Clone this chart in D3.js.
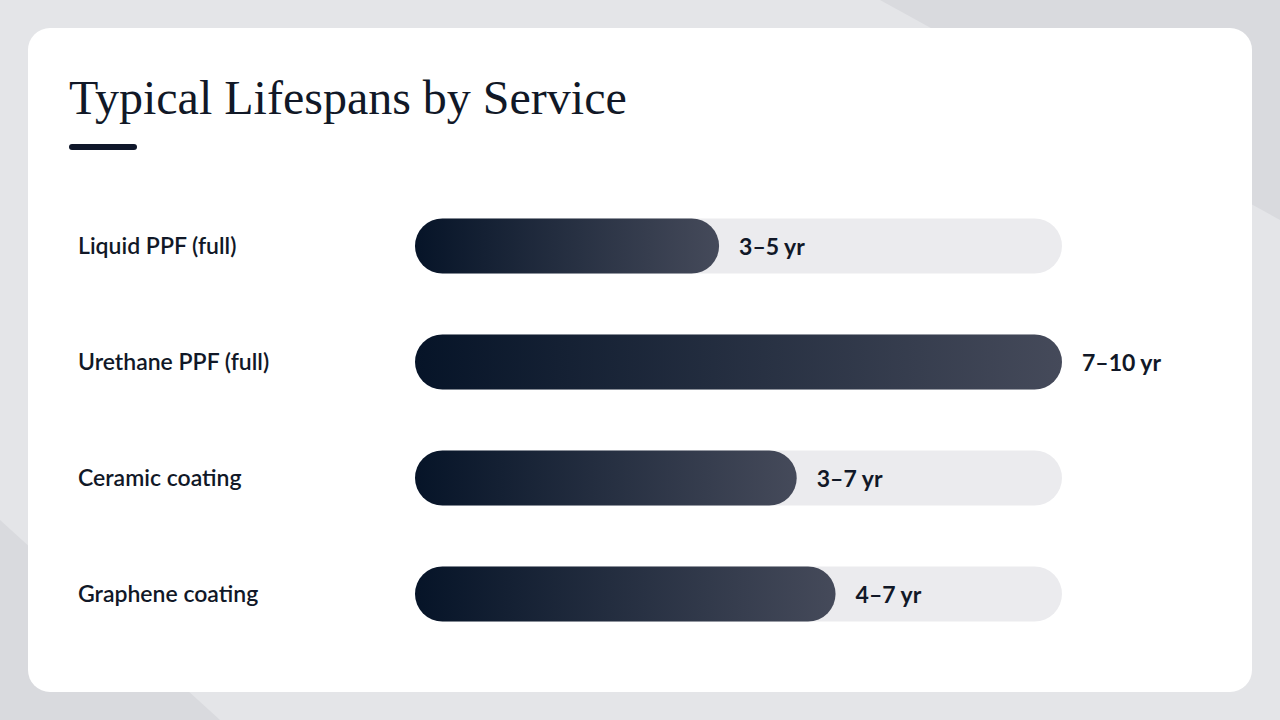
<!DOCTYPE html>
<html><head><meta charset="utf-8">
<script src="https://cdn.jsdelivr.net/npm/d3@7/dist/d3.min.js"></script>
<style>body{margin:0;background:#e4e5e8}</style></head>
<body><script>
const categories=["Liquid PPF (full)","Urethane PPF (full)","Ceramic coating","Graphene coating"];
const values=[4.7,10,5.9,6.5];
const valueLabels=["3–5 yr","7–10 yr","3–7 yr","4–7 yr"];
const W=1280,H=720;
const svg=d3.select("body").append("svg").attr("width",W).attr("height",H);
svg.append("rect").attr("width",W).attr("height",H).attr("fill","#e4e5e8");
svg.append("path").attr("d","M880,0 L1280,0 L1280,220 Z").attr("fill","#d9dade");
svg.append("path").attr("d","M0,520 L0,720 L220,720 Z").attr("fill","#d9dade");
svg.append("rect").attr("x",28).attr("y",28).attr("width",1224).attr("height",664).attr("rx",22).attr("fill","#fff");
svg.append("text").attr("x",69).attr("y",114).attr("font-family","Liberation Serif, serif").attr("font-size",48).attr("fill","#111827").text("Typical Lifespans by Service");
svg.append("rect").attr("x",69).attr("y",144).attr("width",68).attr("height",6).attr("rx",3).attr("fill","#0f172a");
const defs=svg.append("defs");
const g=defs.append("linearGradient").attr("id","gr");
g.append("stop").attr("offset","0%").attr("stop-color","#061428");
g.append("stop").attr("offset","100%").attr("stop-color","#454a5a");
const x=d3.scaleLinear().domain([0,10]).range([415,1062]);
const y=d3.scaleBand().domain(categories).range([188,652]).paddingInner(0.526).paddingOuter(0.263);
const row=svg.selectAll("g.r").data(categories).enter().append("g");
row.append("rect").attr("x",x(0)).attr("y",d=>y(d)).attr("width",x(10)-x(0)).attr("height",y.bandwidth()).attr("rx",y.bandwidth()/2).attr("fill","#ebebee");
row.append("rect").attr("x",x(0)).attr("y",d=>y(d)).attr("width",(d,i)=>x(values[i])-x(0)).attr("height",y.bandwidth()).attr("rx",y.bandwidth()/2).attr("fill","url(#gr)");
row.append("text").attr("x",78).attr("y",d=>y(d)+y.bandwidth()/2).attr("dy","0.35em").attr("font-family","Lato, sans-serif").attr("font-weight",600).attr("font-size",23).attr("fill","#111827").text(d=>d);
row.append("text").attr("x",(d,i)=>x(values[i])+20).attr("y",d=>y(d)+y.bandwidth()/2).attr("dy","0.38em").attr("font-family","Lato, sans-serif").attr("font-weight",700).attr("font-size",23).attr("fill","#111827").text((d,i)=>valueLabels[i]);
</script></body></html>
